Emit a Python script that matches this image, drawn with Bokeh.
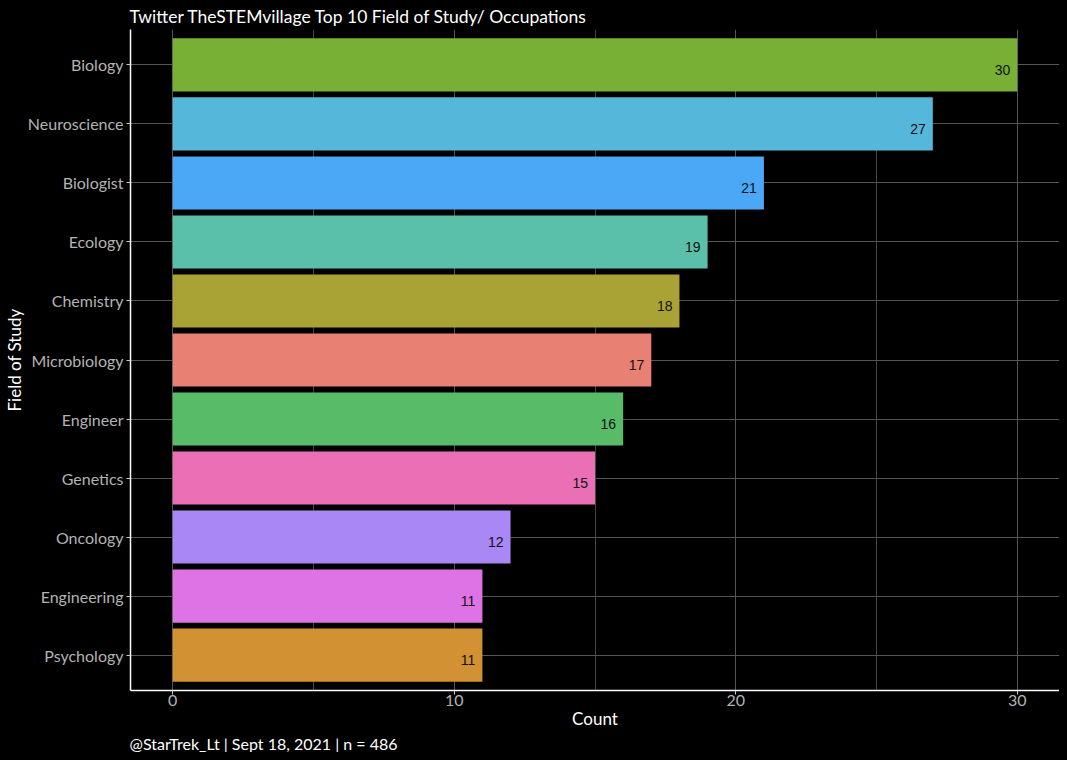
from bokeh.plotting import figure
from bokeh.models import ColumnDataSource, FactorRange, Range1d, FixedTicker, Title
from bokeh.core.properties import value
from bokeh.embed import file_html
from bokeh.resources import INLINE

fields = ["Biology", "Neuroscience", "Biologist", "Ecology", "Chemistry",
          "Microbiology", "Engineer", "Genetics", "Oncology", "Engineering", "Psychology"]
counts = [30, 27, 21, 19, 18, 17, 16, 15, 12, 11, 11]
colors = ["#78AF35", "#55B8DA", "#4AA8F6", "#5BC0AA", "#A9A235", "#E88074",
          "#57BB68", "#EA6FB5", "#A987F5", "#DE73E5", "#D29133"]
x_ticks = [0, 10, 20, 30]
x_minor = [5, 15, 25]

title_text = "Twitter TheSTEMvillage Top 10 Field of Study/ Occupations"
caption_text = "@StarTrek_Lt | Sept 18, 2021 | n = 486"

src = ColumnDataSource(dict(field=fields, count=counts, color=colors,
                            label=[str(c) for c in counts]))

factors = list(reversed(fields))
p = figure(width=1059, height=752,
           y_range=FactorRange(factors=factors, range_padding=0.1, range_padding_units="absolute"),
           x_range=Range1d(-1.5, 31.5),
           output_backend="svg", toolbar_location=None,
           background_fill_color="black", border_fill_color="black",
           min_border_left=122, min_border_right=0, min_border_top=0, min_border_bottom=0)
p.outline_line_color = None

p.hbar(y="field", left=0, right="count", height=0.9, fill_color="color",
       line_color=None, source=src)
p.text(x="count", y="field", text="label", source=src, text_align="right",
       text_baseline="middle", x_offset=-7, y_offset=5,
       text_font=value("Liberation Sans"), text_font_size="14px", text_color="#111111")

# title
p.title.text = title_text
p.title.text_font = "Lato"
p.title.text_font_size = "17.5px"
p.title.text_font_style = "normal"
p.title.text_color = "white"
p.title.align = "left"
p.title.offset = -1
p.title.standoff = 6

cap = Title(text=caption_text, align="left", text_font="Lato", text_font_size="16px",
            text_font_style="normal", text_color="white", standoff=0, offset=-1,
            text_line_height=0.85)
p.add_layout(cap, "below")

# axes
for ax in (p.xaxis[0], p.yaxis[0]):
    ax.axis_line_color = "white"
    ax.axis_line_width = 1.5
    ax.major_tick_line_color = "#cccccc"
    ax.major_tick_out = 4
    ax.major_tick_in = 0
    ax.minor_tick_line_color = None
    ax.major_label_text_font = "Lato"
    ax.major_label_text_font_size = "16px"
    ax.major_label_text_color = "#b3b3b3"
    ax.axis_label_text_font = "Lato"
    ax.axis_label_text_font_size = "17px"
    ax.axis_label_text_font_style = "normal"
    ax.axis_label_text_color = "white"

p.xaxis.ticker = FixedTicker(ticks=x_ticks, minor_ticks=x_minor)
p.xaxis.axis_label = "Count"
p.xaxis.major_label_standoff = 0
p.xaxis.axis_label_standoff = -1
p.yaxis.axis_label = "Field of Study"
p.yaxis.major_label_standoff = 3
p.yaxis.axis_label_standoff = 0

p.xgrid.grid_line_color = "#555555"
p.xgrid.minor_grid_line_color = "#444444"
p.ygrid.grid_line_color = "#555555"

html = file_html(p, INLINE)
html = html.replace("</head>", "<style>html, body { background: #000000; }</style></head>")
open("out.html", "w").write(html)
